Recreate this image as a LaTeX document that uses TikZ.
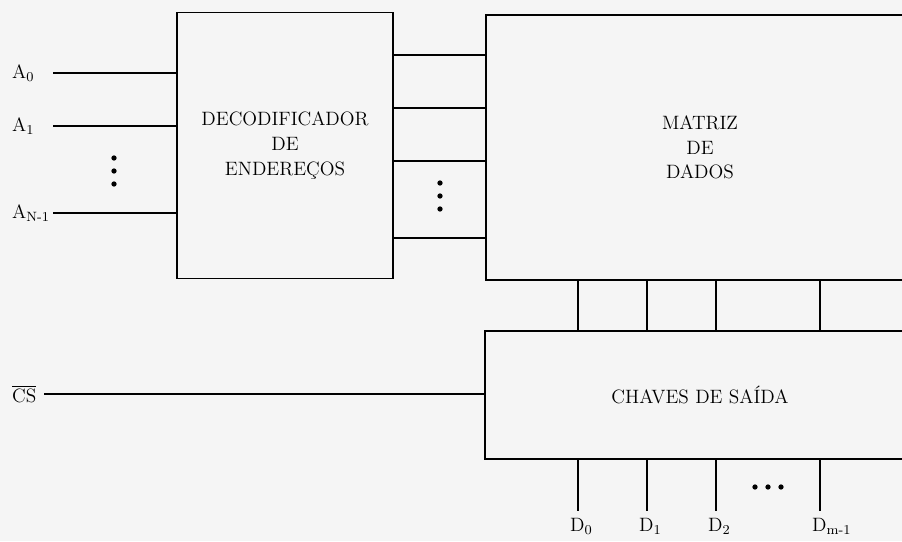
\documentclass[tikz,border=0pt]{standalone}
\usepackage{amsmath}
\usepackage{tikz}
\usetikzlibrary{positioning}
\usetikzlibrary{calc}

\tikzset{
    blk/.style={draw, line width=0.9pt, align=center, inner sep=0pt, font=\fontsize{11}{14}\selectfont},
    wire/.style={line width=0.9pt},
    pin/.style={inner sep=1pt, font=\fontsize{11}{14}\selectfont},
    dotmark/.style={fill, circle, inner sep=0pt, minimum size=3pt}
}

\begin{document}
\begin{tikzpicture}[x=0.02cm,y=-0.02cm]
    \useasboundingbox (0,0) rectangle (902,541);
    \fill[black!4] (0,0) rectangle (902,541);
    \clip (0,0) rectangle (902,541);

    \node[blk, minimum width=4.32cm, minimum height=5.32cm] (dec) at (285,145.5) {DECODIFICADOR\\DE\\ENDERE\c{C}OS};
    \node[blk, minimum width=8.56cm, minimum height=5.30cm] (mat) at (700,147.5) {MATRIZ\\DE\\DADOS};
    \node[blk, minimum width=8.60cm, minimum height=2.56cm] (chv) at (700,395) {CHAVES DE SA\'IDA};

    % entradas de endereco
    \foreach \n/\y/\t in {0/73/{0}, 1/126/{1}, 2/213/{N-1}} {
        \node[pin, anchor=west] (lbl\n) at (10,\y) {A\textsubscript{\t}};
        \coordinate (in\n) at (53,\y);
        \draw[wire] (in\n) -- (in\n -| dec.west);
    }
    \foreach \y in {158,171,184}
        \node[dotmark] at (114,\y) {};

    % linhas de palavra
    \foreach \n/\y in {0/55, 1/108, 2/161, 3/238} {
        \coordinate (w\n) at (0,\y);
        \draw[wire] (w\n -| dec.east) -- (w\n -| mat.west);
    }
    \foreach \y in {183,196,209}
        \node[dotmark] at (440,\y) {};

    % chip select
    \node[pin, anchor=west] (cs) at (10,394) {$\overline{\mbox{CS}}$};
    \coordinate (csin) at (44,394);
    \draw[wire] (csin) -- (csin -| chv.west);

    % colunas e saidas
    \foreach \n/\x/\t in {0/578/{0}, 1/647/{1}, 2/716/{2}, 3/820/{m-1}} {
        \coordinate (c\n) at (\x,0);
        \draw[wire] (c\n |- mat.south) -- (c\n |- chv.north);
        \coordinate (d\n) at (\x,511);
        \draw[wire] (d\n |- chv.south) -- (d\n);
        \node[pin, anchor=north west] (lblD\n) at ([xshift=-0.2cm,yshift=-0.1cm]d\n) {D\textsubscript{\t}};
    }
    \foreach \x in {755,768,781}
        \node[dotmark] at (\x,487) {};
\end{tikzpicture}
\end{document}
